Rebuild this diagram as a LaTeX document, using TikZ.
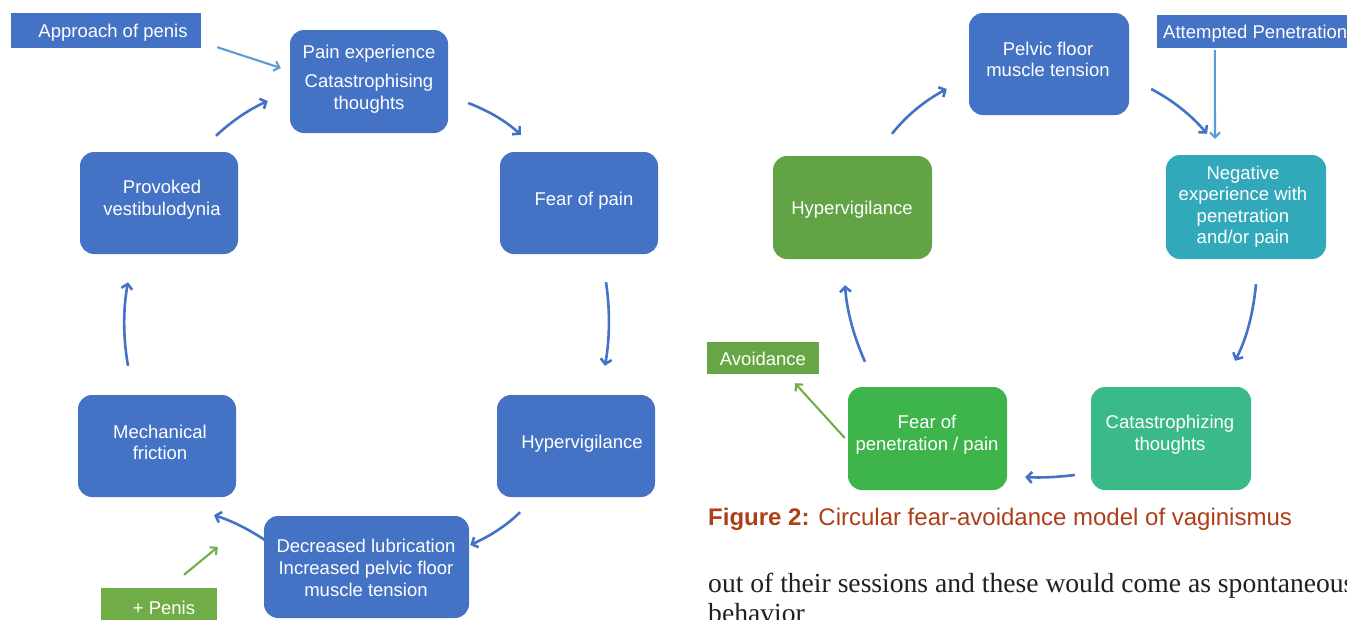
\documentclass[tikz,border=0pt]{standalone}
\usepackage{fontspec}
\setmainfont{Liberation Sans}
\newfontfamily\bodyserif{Liberation Serif}
\usetikzlibrary{calc,arrows.meta}
\definecolor{mblue}{RGB}{68,114,196}
\definecolor{lblue}{RGB}{91,155,213}
\definecolor{lgreen}{RGB}{112,173,71}
\definecolor{teal1}{RGB}{50,169,187}
\definecolor{cgreen}{RGB}{58,185,137}
\definecolor{fgreen}{RGB}{61,181,74}
\definecolor{hgreen}{RGB}{98,163,69}
\definecolor{agreen}{RGB}{102,166,68}
\definecolor{capcol}{RGB}{172,62,24}
\definecolor{bodytext}{RGB}{35,31,32}
\begin{document}
\begin{tikzpicture}[x=1pt,y=-1pt,
  box/.style={draw=none, fill=#1, rounded corners=14pt, inner sep=0pt, minimum width=158pt, minimum height=103pt},
  tag/.style={draw=none, fill=#1, inner sep=0pt},
  lbl/.style={text=white, align=center, inner sep=0pt, yshift=-2.5pt, font=\fontsize{18.5}{21.5}\selectfont},
  arr/.style={draw=mblue, line width=2.6pt, -{Straight Barb[length=5pt,width=11pt]}},
  larr/.style={draw=lblue, line width=2.1pt, -{Straight Barb[length=5pt,width=10pt]}},
  garr/.style={draw=lgreen, line width=2.1pt, -{Straight Barb[length=5pt,width=10pt]}}]
\useasboundingbox (0,0) rectangle (1347,619);
\clip (0,0) rectangle (1347,619);

% ---------------- left cycle ----------------
\node[tag=mblue, minimum width=190pt, minimum height=35pt] (appr) at (106,30.5) {};
\node[lbl] (apprt) at (113,30.5) {Approach of penis};

\node[box=mblue] (pain) at (369,81.5) {};
\node[lbl] (paint) at (369,76.5) {Pain experience\\[7.5pt]Catastrophising\\thoughts};

\node[box=mblue, minimum height=102pt] (fear) at (579,203) {};
\node[lbl] (feart) at (584,198) {Fear of pain};

\node[box=mblue, minimum height=102pt] (hypa) at (576,446) {};
\node[lbl] (hypat) at (582,441) {Hypervigilance};

\node[box=mblue, minimum width=205pt, minimum height=102pt] (decr) at (366.5,567) {};
\node[lbl] (decrt) at (366,565) {Decreased lubrication\\[0.5pt]Increased pelvic floor\\[0.5pt]muscle tension};

\node[box=mblue, minimum height=102pt] (mech) at (157,446) {};
\node[lbl] (mecht) at (160,440) {Mechanical\\friction};

\node[box=mblue, minimum height=102pt] (prov) at (159,203) {};
\node[lbl] (provt) at (162,197) {Provoked\\vestibulodynia};

\node[tag=lgreen, minimum width=116pt, minimum height=42pt] (penis) at (159,609) {};
\node[lbl] (penist) at (164,605) {+ Penis};

\draw[larr] ($(appr.south east)+(16,-1)$) -- ($(pain.west)+(-9,-13.5)$);
\draw[arr] ($(pain.east)+(20,21.5)$) .. controls +(21,8) and +(-14,-13) .. ($(fear.north west)+(21,-17)$);
\draw[arr] ($(fear.south)+(27,28)$) .. controls +(4,27) and +(5,-29) .. ($(hypa.north)+(29,-29)$);
\draw[arr] ($(hypa.south)+(-56,15)$) .. controls +(-13,13) and +(20,-9) .. ($(decr.east)+(1,-22)$);
\draw[arr] ($(decr.west)+(1,-27)$) .. controls +(-18,-12) and +(16,5) .. ($(mech.south)+(57,18)$);
\draw[arr] ($(mech.north)+(-29,-29)$) .. controls +(-5,-29) and +(-5,27) .. ($(prov.south)+(-31,28)$);
\draw[arr] ($(prov.north)+(57,-16)$) .. controls +(15,-14) and +(-20,9) .. ($(pain.west)+(-22,19.5)$);
\draw[garr] ($(penis.north)+(25,-13)$) -- ($(decr.west)+(-46,-20)$);

% ---------------- right cycle ----------------
\node[box=mblue, minimum width=160pt, minimum height=102pt] (pelv) at (1049,64) {};
\node[lbl] (pelvt) at (1048,57) {Pelvic floor\\muscle tension};

\node[tag=mblue, minimum width=203pt, minimum height=33pt] (att) at (1258.5,31.5) {};
\node[lbl, anchor=west] (attt) at (1163,31.5) {Attempted Penetration};

\node[box=teal1, minimum width=160pt, minimum height=104pt] (neg) at (1246,207) {};
\node[lbl] (negt) at (1243,204) {Negative\\experience with\\penetration\\and/or pain};

\node[box=cgreen, minimum width=160pt] (cat) at (1171,438.5) {};
\node[lbl] (catt) at (1170,432) {Catastrophizing\\thoughts};

\node[box=fgreen, minimum width=159pt] (fearp) at (927.5,438.5) {};
\node[lbl] (fearpt) at (927,432) {Fear of\\penetration / pain};

\node[box=hgreen, minimum width=159pt] (hypb) at (852.5,207.5) {};
\node[lbl] (hypbt) at (852,207) {Hypervigilance};

\node[tag=agreen, minimum width=112pt, minimum height=32pt] (avoid) at (763,358) {};
\node[lbl] (avoidt) at (763,356) {Avoidance};

\draw[arr] ($(hypb.north)+(39.5,-22)$) .. controls +(15,-19) and +(-21,11) .. ($(pelv.west)+(-22,25)$);
\draw[arr] ($(pelv.east)+(22,25)$) .. controls +(21,11) and +(-16,-19) .. ($(neg.north)+(-39,-21)$);
\draw[larr] ($(att.south west)+(58,2)$) -- ($(neg.north)+(-31,-16)$);
\draw[arr] ($(neg.south)+(10,25)$) .. controls +(-3,31) and +(11,-21) .. ($(cat.north)+(64,-26)$);
\draw[arr] ($(cat.west)+(-16,36.5)$) .. controls +(-17,2) and +(17,1) .. ($(fearp.east)+(18,38.5)$);
\draw[arr] ($(fearp.north)+(-62.5,-25)$) .. controls +(-11,-25) and +(2,27) .. ($(hypb.south)+(-7.5,26)$);
\draw[garr] ($(fearp.west)+(-3,-0.5)$) -- ($(avoid.south)+(32,9)$);

% ---------------- caption and body text ----------------
\node[anchor=base west, inner sep=0pt, text=capcol, font=\fontsize{24}{26}\selectfont] (cap) at (708,525) {\textbf{Figure 2:} Circular fear-avoidance model of vaginismus};
\node[anchor=base west, inner sep=0pt, text=bodytext, font=\bodyserif\fontsize{27.6}{30}\selectfont] (body1) at (708,592) {out of their sessions and these would come as spontaneous};
\node[anchor=base west, inner sep=0pt, text=bodytext, font=\bodyserif\fontsize{27.6}{30}\selectfont] (body2) at (708,622) {behavior};
\end{tikzpicture}
\end{document}
